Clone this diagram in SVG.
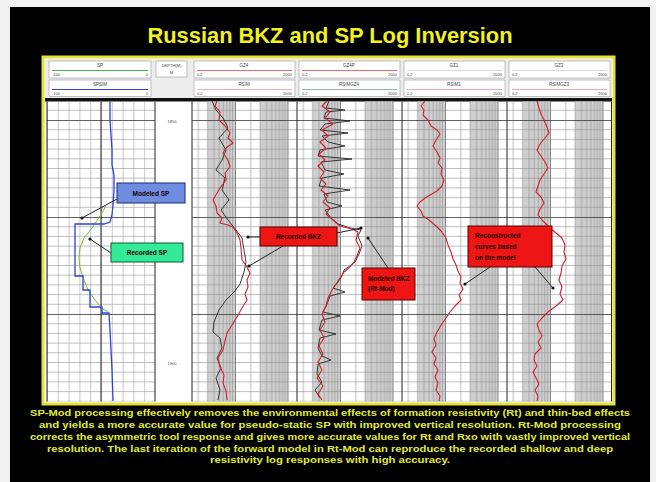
<svg xmlns="http://www.w3.org/2000/svg" width="656" height="482" viewBox="0 0 656 482">
<defs>
<style>
.ttl{font-family:"Liberation Sans",Arial,sans-serif;font-weight:bold;font-size:22px;fill:#f2f21e}
.body{font-family:"Liberation Sans",Arial,sans-serif;font-weight:bold;font-size:8.6px;fill:#e0ec3a}
.hl{font-family:"Liberation Sans",Arial,sans-serif;font-size:4.5px;fill:#444}
.hs{font-family:"Liberation Sans",Arial,sans-serif;font-size:4px;fill:#444}
.ct{font-family:"Liberation Sans",Arial,sans-serif;font-weight:bold;font-size:6.5px;fill:#1a0000}
.red{fill:none;stroke:#d0202a;stroke-width:1.1;stroke-linejoin:round}
.blk{fill:none;stroke:#262626;stroke-width:0.9;stroke-linejoin:round}
.lead{stroke:#222;stroke-width:1;fill:none}
.hbox{fill:#fff;stroke:#9a9a9a;stroke-width:0.6}
</style>
<pattern id="hg" patternUnits="userSpaceOnUse" x="0" y="23" width="656" height="97">
<path d="M0 0.4H656" stroke="#3a3a3a" stroke-width="0.9"/>
<path d="M0 9.7H656M0 19.4H656M0 29.1H656M0 38.8H656M0 48.5H656M0 58.2H656M0 67.9H656M0 77.6H656M0 87.3H656" stroke="#8a8a8a" stroke-width="0.55"/>
</pattern>
<pattern id="vlin" patternUnits="userSpaceOnUse" x="47" y="0" width="10.8" height="10">
<path d="M0.3 0V10" stroke="#8a8a8a" stroke-width="0.6"/>
</pattern>
<pattern id="vlog" patternUnits="userSpaceOnUse" x="182.5" y="0" width="52.5" height="10">
<rect x="25" y="0" width="27.5" height="10" fill="#cfcfcf"/>
<path d="M15.8 0V10M25.05 0V10M31.6 0V10M36.7 0V10M40.85 0V10M44.4 0V10M47.4 0V10M50.1 0V10" stroke="#8c8c8c" stroke-width="0.6"/>
<path d="M0.4 0V10" stroke="#555" stroke-width="0.8"/>
</pattern>
<marker id="dot" markerWidth="4" markerHeight="4" refX="2" refY="2" markerUnits="userSpaceOnUse">
<circle cx="2" cy="2" r="1.6" fill="#111"/>
</marker>
</defs>

<rect x="0" y="0" width="656" height="482" fill="#f2f2f2"/>
<rect x="10" y="7" width="640" height="475" fill="#000"/>

<text class="ttl" x="330" y="43" text-anchor="middle" textLength="365" lengthAdjust="spacingAndGlyphs">Russian BKZ and SP Log Inversion</text>

<g id="panel">
<rect x="43" y="57" width="571" height="347" fill="#fff" stroke="#e2e23a" stroke-width="3"/>
<rect x="45" y="59" width="567" height="39" fill="#ededed"/>
<rect x="45" y="98" width="567" height="3.5" fill="#111"/>
</g>

<g id="header-sp">
<rect class="hbox" x="49" y="61" width="102" height="17"/>
<text class="hl" x="100" y="67" text-anchor="middle">SP</text>
<path d="M52 70.5H148" stroke="#49b24b" stroke-width="1.2"/>
<text class="hs" x="52" y="76">-100</text><text class="hs" x="148" y="76" text-anchor="end">0</text>
<rect class="hbox" x="49" y="80" width="102" height="16.5"/>
<text class="hl" x="100" y="86" text-anchor="middle">SPSIM</text>
<path d="M52 89.5H148" stroke="#3c3cd0" stroke-width="1.2"/>
<text class="hs" x="52" y="95">-100</text><text class="hs" x="148" y="95" text-anchor="end">0</text>
</g>
<g id="header-depth">
<rect class="hbox" x="156" y="61" width="31" height="16"/>
<text class="hs" x="171.5" y="67" text-anchor="middle">DEPTH(M)</text>
<text class="hs" x="171.5" y="74" text-anchor="middle">M</text>
</g>
<g id="header-t3">
<rect class="hbox" x="194" y="61" width="101" height="17"/>
<text class="hl" x="244" y="67" text-anchor="middle">GZ4</text>
<path d="M197 70.5H292" stroke="#f06a6a" stroke-width="1.2"/>
<text class="hs" x="197" y="76">0.2</text><text class="hs" x="292" y="76" text-anchor="end">2000</text>
<rect class="hbox" x="194" y="80" width="101" height="16.5"/>
<text class="hl" x="244" y="86" text-anchor="middle">RSIM</text>
<path d="M197 89.5H292" stroke="#f4b0b0" stroke-width="1"/>
<text class="hs" x="197" y="95">0.2</text><text class="hs" x="292" y="95" text-anchor="end">2000</text>
</g>
<g id="header-t4">
<rect class="hbox" x="299" y="61" width="101" height="17"/>
<text class="hl" x="349" y="67" text-anchor="middle">GZ4P</text>
<path d="M302 70.5H397" stroke="#f06a6a" stroke-width="1.2"/>
<text class="hs" x="302" y="76">0.2</text><text class="hs" x="397" y="76" text-anchor="end">2000</text>
<rect class="hbox" x="299" y="80" width="101" height="16.5"/>
<text class="hl" x="349" y="86" text-anchor="middle">RSIMGZ4</text>
<path d="M302 89.5H397" stroke="#9ab0a0" stroke-width="1"/>
<text class="hs" x="302" y="95">0.2</text><text class="hs" x="397" y="95" text-anchor="end">2000</text>
</g>
<g id="header-t5">
<rect class="hbox" x="404" y="61" width="101" height="17"/>
<text class="hl" x="454" y="67" text-anchor="middle">GZ1</text>
<path d="M407 70.5H502" stroke="#d8d8d8" stroke-width="1.2"/>
<text class="hs" x="407" y="76">0.2</text><text class="hs" x="502" y="76" text-anchor="end">2000</text>
<rect class="hbox" x="404" y="80" width="101" height="16.5"/>
<text class="hl" x="454" y="86" text-anchor="middle">RSIM1</text>
<path d="M407 89.5H502" stroke="#f2a8b0" stroke-width="1"/>
<text class="hs" x="407" y="95">0.2</text><text class="hs" x="502" y="95" text-anchor="end">2000</text>
</g>
<g id="header-t6">
<rect class="hbox" x="509" y="61" width="101" height="17"/>
<text class="hl" x="559" y="67" text-anchor="middle">GZ3</text>
<path d="M512 70.5H607" stroke="#d8d8d8" stroke-width="1.2"/>
<text class="hs" x="512" y="76">0.2</text><text class="hs" x="607" y="76" text-anchor="end">2000</text>
<rect class="hbox" x="509" y="80" width="101" height="16.5"/>
<text class="hl" x="559" y="86" text-anchor="middle">RSIMGZ3</text>
<path d="M512 89.5H607" stroke="#f2a8b0" stroke-width="1"/>
<text class="hs" x="512" y="95">0.2</text><text class="hs" x="607" y="95" text-anchor="end">2000</text>
</g>

<g id="grid">
<rect x="47" y="101.5" width="108" height="300" fill="url(#vlin)"/>
<rect x="192" y="101.5" width="420" height="300" fill="url(#vlog)"/>
<rect x="47" y="101.5" width="108" height="300" fill="url(#hg)"/>
<rect x="192" y="101.5" width="420" height="300" fill="url(#hg)"/>
<path d="M47 101.5V401.5M101 101.5V401.5M155 101.5V401.5M192 101.5V401.5M297 101.5V401.5M402 101.5V401.5M507 101.5V401.5M611.5 101.5V401.5" stroke="#222" stroke-width="1"/>
<text class="hs" x="172" y="123" text-anchor="middle" fill="#555">1850</text>
<text class="hs" x="172" y="365" text-anchor="middle" fill="#555">1900</text>
</g>

<g id="curves">
<polyline fill="none" stroke="#7ab83a" stroke-width="1" points="106,206 100,216 92,228 84,238 80,248 79,258 80,268 84,280 88,290 95,300 103,309 108,312"/>
<polyline fill="none" stroke="#2f43d6" stroke-width="1.3" points="110,101.5 110,120 111,135 112,150 112,165 114,175 114,190 113,205 112,215 110,222 104,224 75,224 75,276 83,276 83,290 90,290 90,307 102,307 102,313 109,313 110,330 111,350 112,370 113,401"/>

<polyline class="blk" points="212,101 216,110 223,118 228,128 219,138 226,150 222,160 216,170 225,178 222,190 229,200 221,210 228,220 236,230 242,238 244,250 246,262 244,272 240,284 234,292 226,300 219,310 214,322 213,332 220,338 222,348 217,358 221,368 216,378 220,390 218,400"/>
<polyline class="red" points="217,101 215,106 220,112 219,120 225,126 230,133 228,138 233,143 226,148 223,153 228,160 230,167 225,173 226,180 220,188 213,200 216,206 217,213 222,218 220,223 228,225 233,227 237,233 240,240 241,248 242,260 245,264 247,267 250,273 247,280 248,287 245,294 247,300 242,308 237,317 232,325 227,333 225,341 223,350 218,358 220,367 224,375 223,383 226,391 227,400"/>

<polyline class="blk" points="329,101 326,108 345,110 326,112 324,118 350,121 325,124 320,130 348,133 322,136 328,142 345,146 320,150 318,156 352,159 321,162 325,170 344,174 322,178 319,186 350,190 324,194 327,202 342,206 325,210 331,218 338,224 350,228 361,230 358,236 362,246 359,254 355,262 350,266 344,270 342,276 338,282 333,288 345,292 330,296 327,304 323,312 340,316 322,320 319,330 336,334 320,338 318,348 322,356 331,360 318,364 317,374 322,382 315,390 320,398"/>
<polyline class="red" points="327,101 322,106 330,112 325,118 333,124 322,130 328,136 320,142 326,148 319,154 325,160 318,166 324,172 320,178 326,184 321,190 328,196 323,202 330,208 326,214 333,220 340,226 352,229 358,232 356,240 360,248 357,256 354,262 349,268 344,272 340,278 336,284 332,290 328,298 326,306 322,314 325,322 320,330 324,338 319,346 323,354 318,362 322,370 317,378 323,386 318,394 322,400"/>

<polyline class="red" points="425,101 421,106 424,110 423,115 428,120 431,126 437,130 440,134 436,140 433,146 437,152 440,158 438,163 442,168 441,174 444,180 442,186 437,191 430,195 425,198 420,202 417,206 421,211 423,216 429,220 436,226 441,231 446,238 448,245 451,252 453,259 456,265 458,271 461,277 460,283 463,289 459,295 461,300 455,306 450,312 446,318 441,325 437,332 434,339 436,345 432,352 436,358 434,364 438,370 435,377 438,383 436,390 440,396 439,401"/>
<polyline class="red" points="537,101 539,108 541,114 544,120 547,127 549,133 545,138 540,144 537,150 541,156 545,162 548,168 544,174 540,180 538,186 536,192 541,197 544,203 540,209 538,215 543,221 550,228 556,233 562,238 565,245 564,252 566,259 562,266 561,273 559,280 562,287 560,294 563,300 556,306 548,312 542,318 537,324 539,330 542,336 538,342 541,348 535,354 534,360 537,366 533,372 536,378 539,384 535,390 538,396 537,401"/>
</g>

<g id="connectors">
<line class="lead" x1="117" y1="199" x2="82" y2="218" marker-end="url(#dot)"/>
<line class="lead" x1="111" y1="253" x2="90" y2="239" marker-end="url(#dot)"/>
<line class="lead" x1="260" y1="237" x2="248" y2="237" marker-end="url(#dot)"/>
<line class="lead" x1="283" y1="246" x2="249" y2="266" marker-end="url(#dot)"/>
<line class="lead" x1="337" y1="233" x2="361" y2="228" marker-end="url(#dot)"/>
<line class="lead" x1="388" y1="268" x2="368" y2="238" marker-end="url(#dot)"/>
<line class="lead" x1="490" y1="267" x2="465" y2="284" marker-end="url(#dot)"/>
<line class="lead" x1="535" y1="267" x2="553" y2="288" marker-end="url(#dot)"/>
</g>

<g id="n-modeled-sp">
<rect x="117" y="183" width="68" height="20" fill="#6f8de0" stroke="#1a2a7a"/>
<text class="ct" x="151" y="195.5" text-anchor="middle" fill="#0a1440">Modeled SP</text>
</g>
<g id="n-recorded-sp">
<rect x="111" y="243" width="72" height="19" fill="#33ea98" stroke="#0c5a30"/>
<text class="ct" x="147" y="255" text-anchor="middle" fill="#06301a">Recorded SP</text>
</g>
<g id="n-recorded-bkz">
<rect x="260" y="227" width="77" height="19" fill="#ee1515" stroke="#5a0000"/>
<text class="ct" x="298.5" y="239" text-anchor="middle">Recorded BKZ</text>
</g>
<g id="n-modeled-bkz">
<rect x="362" y="268" width="53" height="32" fill="#ee1515" stroke="#5a0000"/>
<text class="ct" x="368" y="281">Modeled  BKZ</text>
<text class="ct" x="368" y="291">(Rt-Mod)</text>
</g>
<g id="n-reconstructed">
<rect x="468" y="226" width="84" height="41" fill="#ee1515" stroke="#5a0000"/>
<text class="ct" x="475" y="238">Reconstructed</text>
<text class="ct" x="475" y="249">curves based</text>
<text class="ct" x="475" y="260">on the model</text>
</g>

<g id="caption">
<text class="body" x="330" y="416" text-anchor="middle" textLength="600" lengthAdjust="spacingAndGlyphs">SP-Mod processing effectively removes the environmental effects of formation resistivity (Rt) and thin-bed effects</text>
<text class="body" x="330" y="428" text-anchor="middle" textLength="582" lengthAdjust="spacingAndGlyphs">and yields a more accurate value for pseudo-static SP with  improved vertical resolution.   Rt-Mod processing</text>
<text class="body" x="330" y="440" text-anchor="middle" textLength="600" lengthAdjust="spacingAndGlyphs">corrects the asymmetric tool response and gives more accurate values for Rt and Rxo with vastly improved vertical</text>
<text class="body" x="330" y="451.5" text-anchor="middle" textLength="566" lengthAdjust="spacingAndGlyphs">resolution.  The last iteration of the forward model in Rt-Mod can reproduce the recorded shallow and deep</text>
<text class="body" x="330" y="463" text-anchor="middle" textLength="240" lengthAdjust="spacingAndGlyphs">resistivity log responses with high accuracy.</text>
</g>
</svg>
